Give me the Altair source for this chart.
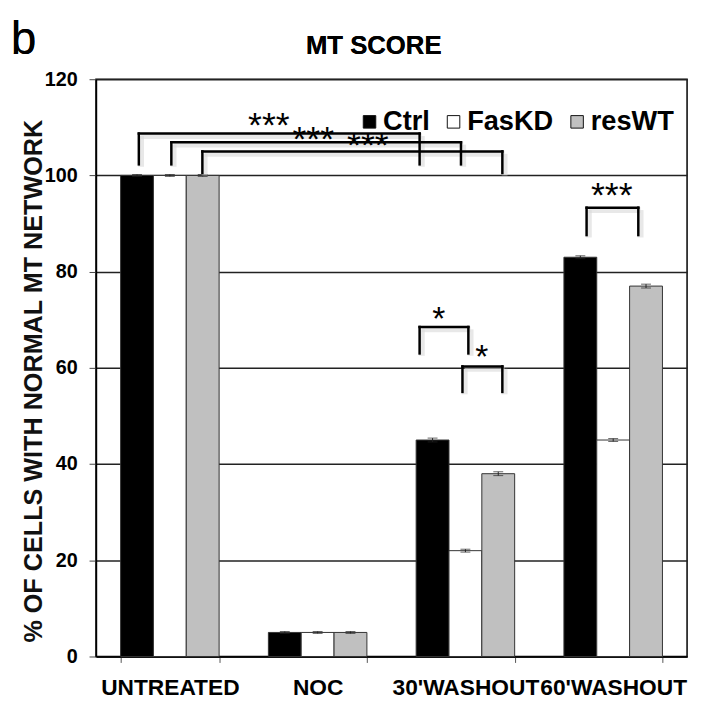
import altair as alt
import pandas as pd

groups = ["UNTREATED", "NOC", "30'WASHOUT", "60'WASHOUT"]
series = ["Ctrl", "FasKD", "resWT"]
colors = ["#000000", "#ffffff", "#c0c0c0"]
ctrl = [100, 5, 45, 83]
faskd = [100, 5, 22, 45]
reswt = [100, 5, 38, 77]
ctrl_err = [0.2, 0.2, 0.4, 0.3]
faskd_err = [0.2, 0.2, 0.3, 0.3]
reswt_err = [0.2, 0.2, 0.4, 0.4]

# significance brackets: x in group units (0..4), legs from low to top
br_x1 = [0.29, 0.51, 0.72, 2.19, 2.48, 3.32]
br_x2 = [2.19, 2.47, 2.75, 2.52, 2.75, 3.67]
br_top = [108.7, 106.9, 105.0, 68.5, 60.3, 93.3]
br_low1 = [102.3, 102.3, 100.5, 63.0, 55.0, 87.6]
br_low2 = [102.3, 102.3, 100.5, 63.0, 55.0, 87.6]
triple_x = [1.17, 1.47, 1.84, 3.49]
triple_y = [107.9, 105.0, 103.8, 93.5]
single_x = [2.32, 2.61]
single_y = [67.9, 59.9]

rows = []
for vals, errs, s in [(ctrl, ctrl_err, "Ctrl"), (faskd, faskd_err, "FasKD"), (reswt, reswt_err, "resWT")]:
    for g, v, e in zip(groups, vals, errs):
        rows.append({"group": g, "series": s, "value": v, "lo": v - e, "hi": v + e})
df = pd.DataFrame(rows)

segs = []
for x1, x2, t, l1, l2 in zip(br_x1, br_x2, br_top, br_low1, br_low2):
    segs.append({"x": x1, "x2": x1, "y": l1, "y2": t})
    segs.append({"x": x2, "x2": x2, "y": l2, "y2": t})
    segs.append({"x": x1, "x2": x2, "y": t, "y2": t})
seg_df = pd.DataFrame(segs)
# soft drop shadow under the brackets (shifted slightly right/down)
shadow_df = seg_df.assign(x=seg_df.x + 0.015, x2=seg_df.x2 + 0.015,
                          y=seg_df.y - 0.5, y2=seg_df.y2 - 0.5)
triple_df = pd.DataFrame({"x": triple_x, "y": triple_y})
single_df = pd.DataFrame({"x": single_x, "y": single_y})

FONT = "Liberation Sans"

yscale = alt.Scale(domain=[0, 120], nice=False)
xband = alt.X("group:N", sort=groups, title=None,
              scale=alt.Scale(paddingInner=1 / 3, paddingOuter=1 / 6),
              axis=alt.Axis(labelAngle=0, labelFont=FONT, labelFontSize=23, labelFontWeight="bold",
                            labelColor="black", tickBand="extent", tickSize=6, tickColor="#555",
                            labelPadding=14, domainColor="black", domainWidth=1.5, grid=False))
xoff = alt.XOffset("series:N", sort=series, scale=alt.Scale(paddingInner=0, paddingOuter=0))

bars = alt.Chart(df).mark_bar(stroke="#333", strokeWidth=1).encode(
    x=xband,
    xOffset=xoff,
    y=alt.Y("value:Q", scale=yscale,
            title="% OF CELLS WITH NORMAL MT NETWORK",
            axis=alt.Axis(values=[0, 20, 40, 60, 80, 100, 120], labelFont=FONT, labelFontSize=20,
                          labelFontWeight="bold", labelColor="black", tickSize=7, tickColor="#444",
                          labelPadding=12, domainColor="black", domainWidth=1.5,
                          grid=True, gridColor="#222", gridWidth=1.5,
                          titleFont=FONT, titleFontSize=25.5, titleFontWeight="bold",
                          titleColor="#111", titlePadding=-2, titleY=305)),
    fill=alt.Fill("series:N", sort=series, scale=alt.Scale(domain=series, range=colors),
                  legend=alt.Legend(title=None, orient="none", legendX=263, legendY=29,
                                    direction="horizontal", symbolType="square", symbolSize=160,
                                    symbolStrokeColor="#111", symbolStrokeWidth=1,
                                    labelFont=FONT, labelFontSize=27.5, labelFontWeight="bold",
                                    labelColor="black", labelOffset=0, columnPadding=10)),
)

errs = alt.Chart(df).mark_rule(color="#222", strokeWidth=1).encode(
    x=alt.X("group:N", sort=groups), xOffset=xoff,
    y=alt.Y("lo:Q", scale=yscale), y2="hi:Q")
caps = alt.Chart(df).mark_tick(color="#222", thickness=1, size=10).encode(
    x=alt.X("group:N", sort=groups), xOffset=xoff,
    y=alt.Y("hi:Q", scale=yscale))
caps2 = alt.Chart(df).mark_tick(color="#222", thickness=1, size=10).encode(
    x=alt.X("group:N", sort=groups), xOffset=xoff,
    y=alt.Y("lo:Q", scale=yscale))

base_layer = alt.layer(bars, errs, caps, caps2)

xq = alt.X("x:Q", scale=alt.Scale(domain=[0, 4], nice=False, zero=False), axis=None)
shadows = alt.Chart(shadow_df).mark_rule(color="#d9d9d9", strokeWidth=6, opacity=0.6).encode(
    x=xq, x2="x2:Q", y=alt.Y("y:Q", scale=yscale), y2="y2:Q")
brackets = alt.Chart(seg_df).mark_rule(color="black", strokeWidth=2.5, strokeCap="square").encode(
    x=xq, x2="x2:Q", y=alt.Y("y:Q", scale=yscale), y2="y2:Q")
triples = alt.Chart(triple_df).mark_text(font=FONT, fontSize=36, color="black",
                                         baseline="alphabetic", text="***").encode(
    x=xq, y=alt.Y("y:Q", scale=yscale))
singles = alt.Chart(single_df).mark_text(font=FONT, fontSize=34, color="black",
                                         baseline="alphabetic", text="*").encode(
    x=xq, y=alt.Y("y:Q", scale=yscale))
letter = alt.Chart(single_df).mark_text(font=FONT, fontSize=46, fontWeight="normal", color="black",
                                        align="left", baseline="alphabetic", text="b").encode(
    x=alt.value(-86), y=alt.value(-26))
title = alt.Chart(single_df).mark_text(font=FONT, fontSize=26, fontWeight="bold", color="black",
                                       align="center", baseline="alphabetic", text="MT SCORE").encode(
    x=alt.value(281), y=alt.value(-26))

ann = alt.layer(shadows, brackets, triples, singles, letter, title)

chart = alt.layer(base_layer, ann).resolve_scale(x="independent").properties(
    width=598, height=584,
    padding={"left": 89, "top": 68, "right": 6, "bottom": 44},
    autosize=alt.AutoSizeParams(type="none"),
).configure_view(stroke="black", strokeWidth=1.5)

chart.save("out.html", embed_options={"renderer": "svg", "actions": False})
